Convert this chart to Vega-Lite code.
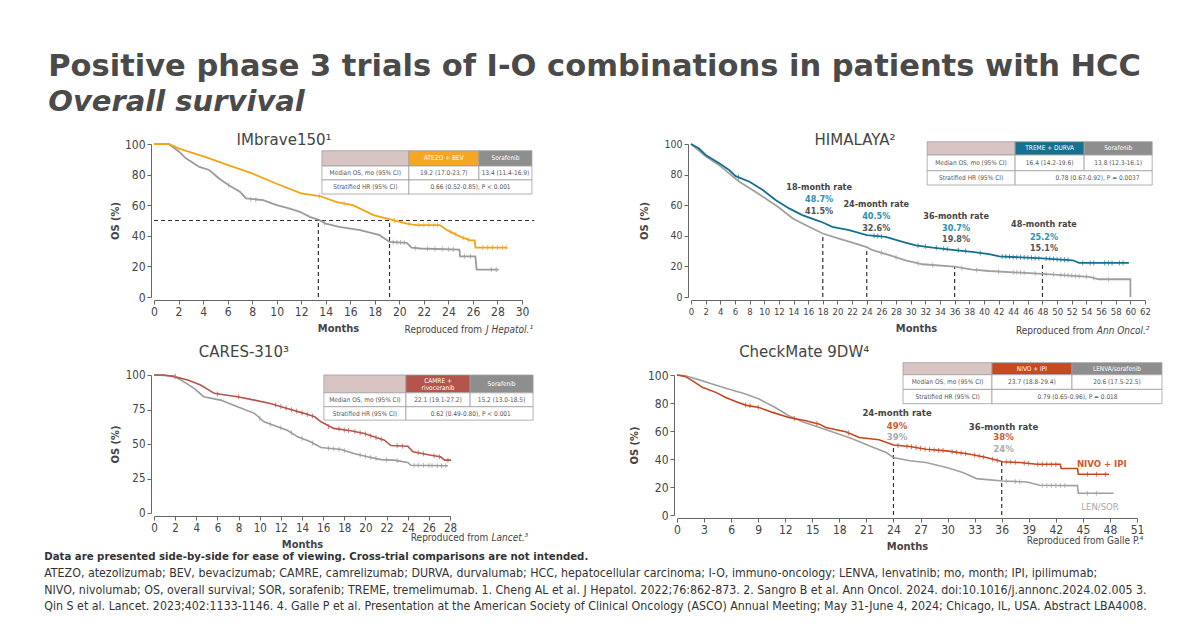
{
"$schema": "https://vega.github.io/schema/vega-lite/v6.json",
"background": "white",
"padding": {"left": 44, "top": 51, "right": 0, "bottom": 0},
"config": {
  "font": "DejaVu Sans Condensed, DejaVu Sans",
  "view": {"stroke": null},
  "axis": {"grid": false, "domainColor": "#666", "tickColor": "#666", "labelColor": "#444", "titleColor": "#444", "titleFontWeight": "bold", "titleFontSize": 11, "tickSize": 4, "labelPadding": 2, "offset": 3, "labelFlush": false, "labelOverlap": false, "labelBound": false, "labelFont": "DejaVu Sans Condensed, DejaVu Sans", "titleFont": "DejaVu Sans Condensed, DejaVu Sans"},
  "text": {"font": "DejaVu Sans Condensed, DejaVu Sans"}
},
"title": {"text": "Positive phase 3 trials of I-O combinations in patients with HCC", "subtitle": "Overall survival", "anchor": "start", "frame": "bounds", "font": "DejaVu Sans", "fontSize": 30.5, "fontWeight": "bold", "color": "#4a4a4a", "subtitleFont": "DejaVu Sans", "subtitleFontSize": 29, "subtitleFontStyle": "italic", "subtitleFontWeight": "bold", "subtitleColor": "#4a4a4a", "subtitlePadding": 6, "offset": 16, "dx": 4},
"resolve": {"scale": {"color": "independent", "fill": "independent"}},
"vconcat": [
{
  "title": {"text": "Data are presented side-by-side for ease of viewing. Cross-trial comparisons are not intended.", "subtitle": ["ATEZO, atezolizumab; BEV, bevacizumab; CAMRE, camrelizumab; DURVA, durvalumab; HCC, hepatocellular carcinoma; I-O, immuno-oncology; LENVA, lenvatinib; mo, month; IPI, ipilimumab;", "NIVO, nivolumab; OS, overall survival; SOR, sorafenib; TREME, tremelimumab. 1. Cheng AL et al. J Hepatol. 2022;76:862-873. 2. Sangro B et al. Ann Oncol. 2024. doi:10.1016/j.annonc.2024.02.005 3.", "Qin S et al. Lancet. 2023;402:1133-1146. 4. Galle P et al. Presentation at the American Society of Clinical Oncology (ASCO) Annual Meeting; May 31-June 4, 2024; Chicago, IL, USA. Abstract LBA4008."], "orient": "bottom", "anchor": "start", "frame": "bounds", "font": "DejaVu Sans Condensed, DejaVu Sans", "fontSize": 11.3, "fontWeight": "bold", "color": "#333", "subtitleFont": "DejaVu Sans Condensed, DejaVu Sans", "subtitleFontSize": 12.3, "subtitleColor": "#333", "subtitleLineHeight": 16.5, "subtitlePadding": 5, "offset": 0, "dx": -65},
  "spacing": 7,
  "resolve": {"scale": {"color": "independent", "fill": "independent"}},
  "vconcat": [
  {
    "hconcat": [
    {
      "width": 368, "height": 153,
      "resolve": {"scale": {"color": "independent"}},
      "encoding": {
        "x": {"field": "month", "type": "quantitative", "scale": {"domain": [0, 30], "nice": false, "zero": false}, "axis": {"values": [0,2,4,6,8,10,12,14,16,18,20,22,24,26,28,30], "title": "Months", "labelFontSize": 12, "titlePadding": 5}},
        "y": {"field": "os", "type": "quantitative", "scale": {"domain": [0, 100], "nice": false}, "axis": {"values": [0,20,40,60,80,100], "title": "OS (%)", "labelFontSize": 12, "titlePadding": 4}}
      },
      "layer": [
        {"data": {"values": [{"month":0,"month2":31,"os":50,"os2":50},{"month":13.4,"month2":13.4,"os":0,"os2":50},{"month":19.2,"month2":19.2,"os":0,"os2":50}]}, "mark": {"type": "rule", "strokeDash": [4, 3], "color": "#333", "strokeWidth": 1.2}, "encoding": {"x2": {"field": "month2"}, "y2": {"field": "os2"}}},
        {"data": {"values": [
          {"arm":"Sorafenib","month":0,"os":100},{"arm":"Sorafenib","month":1.2,"os":100},{"arm":"Sorafenib","month":2.05,"os":95},{"arm":"Sorafenib","month":2.6,"os":90.6},{"arm":"Sorafenib","month":3.7,"os":85},{"arm":"Sorafenib","month":4.5,"os":83},{"arm":"Sorafenib","month":5.3,"os":77.5},{"arm":"Sorafenib","month":6.1,"os":73},{"arm":"Sorafenib","month":7,"os":68.8},{"arm":"Sorafenib","month":7.5,"os":64.4},{"arm":"Sorafenib","month":8.9,"os":63.3},{"arm":"Sorafenib","month":10,"os":60},{"arm":"Sorafenib","month":11,"os":57.9},{"arm":"Sorafenib","month":11.9,"os":55.7},{"arm":"Sorafenib","month":12.7,"os":52.4},{"arm":"Sorafenib","month":13.5,"os":50.2},{"arm":"Sorafenib","month":14,"os":48},{"arm":"Sorafenib","month":15.1,"os":45.9},{"arm":"Sorafenib","month":16.8,"os":43.7},{"arm":"Sorafenib","month":18.4,"os":40.4},{"arm":"Sorafenib","month":19.2,"os":36},{"arm":"Sorafenib","month":20.6,"os":35.4},{"arm":"Sorafenib","month":21,"os":32.3},{"arm":"Sorafenib","month":21.7,"os":31.7},{"arm":"Sorafenib","month":24.9,"os":31},{"arm":"Sorafenib","month":24.95,"os":26.6},{"arm":"Sorafenib","month":26.2,"os":26.6},{"arm":"Sorafenib","month":26.3,"os":17.9},{"arm":"Sorafenib","month":28.1,"os":17.9},
          {"arm":"ATEZO + BEV","month":0,"os":100},{"arm":"ATEZO + BEV","month":1.2,"os":100},{"arm":"ATEZO + BEV","month":2.05,"os":97},{"arm":"ATEZO + BEV","month":4.1,"os":91.7},{"arm":"ATEZO + BEV","month":6.1,"os":86},{"arm":"ATEZO + BEV","month":8,"os":80.8},{"arm":"ATEZO + BEV","month":10,"os":74},{"arm":"ATEZO + BEV","month":12,"os":67.7},{"arm":"ATEZO + BEV","month":13.5,"os":66},{"arm":"ATEZO + BEV","month":14.9,"os":62},{"arm":"ATEZO + BEV","month":16.2,"os":60},{"arm":"ATEZO + BEV","month":17.9,"os":53.5},{"arm":"ATEZO + BEV","month":19,"os":51.3},{"arm":"ATEZO + BEV","month":19.5,"os":50.2},{"arm":"ATEZO + BEV","month":20.6,"os":48},{"arm":"ATEZO + BEV","month":21.4,"os":47},{"arm":"ATEZO + BEV","month":23.3,"os":47},{"arm":"ATEZO + BEV","month":23.9,"os":43.7},{"arm":"ATEZO + BEV","month":25,"os":39.3},{"arm":"ATEZO + BEV","month":25.8,"os":37},{"arm":"ATEZO + BEV","month":26.15,"os":37},{"arm":"ATEZO + BEV","month":26.2,"os":32.3},{"arm":"ATEZO + BEV","month":28.8,"os":32.3}
        ]}, "mark": {"type": "line", "strokeWidth": 1.8}, "encoding": {"color": {"field": "arm", "type": "nominal", "scale": {"domain": ["Sorafenib", "ATEZO + BEV"], "range": ["#9b9b9b", "#F2A516"]}, "legend": null}}},
        {"data": {"values": [
          {"arm":"ATEZO + BEV","month":13.5,"os":66},{"arm":"ATEZO + BEV","month":15.5,"os":61},{"arm":"ATEZO + BEV","month":19.6,"os":50},{"arm":"ATEZO + BEV","month":20.2,"os":49},{"arm":"ATEZO + BEV","month":20.8,"os":47.8},{"arm":"ATEZO + BEV","month":21.6,"os":47},{"arm":"ATEZO + BEV","month":22,"os":47},{"arm":"ATEZO + BEV","month":22.4,"os":47},{"arm":"ATEZO + BEV","month":22.8,"os":47},{"arm":"ATEZO + BEV","month":23.1,"os":47},{"arm":"ATEZO + BEV","month":24.2,"os":42.5},{"arm":"ATEZO + BEV","month":24.6,"os":41},{"arm":"ATEZO + BEV","month":25.2,"os":38.8},{"arm":"ATEZO + BEV","month":25.6,"os":37.5},{"arm":"ATEZO + BEV","month":26.8,"os":32.3},{"arm":"ATEZO + BEV","month":27.2,"os":32.3},{"arm":"ATEZO + BEV","month":27.6,"os":32.3},{"arm":"ATEZO + BEV","month":28,"os":32.3},{"arm":"ATEZO + BEV","month":28.4,"os":32.3},{"arm":"ATEZO + BEV","month":28.7,"os":32.3},
          {"arm":"Sorafenib","month":6.1,"os":73},{"arm":"Sorafenib","month":7.9,"os":63.8},{"arm":"Sorafenib","month":8.3,"os":63.5},{"arm":"Sorafenib","month":13.9,"os":48.5},{"arm":"Sorafenib","month":19.5,"os":35.8},{"arm":"Sorafenib","month":19.8,"os":35.7},{"arm":"Sorafenib","month":20.1,"os":35.6},{"arm":"Sorafenib","month":20.4,"os":35.5},{"arm":"Sorafenib","month":21.3,"os":32},{"arm":"Sorafenib","month":22.3,"os":31.5},{"arm":"Sorafenib","month":22.9,"os":31.4},{"arm":"Sorafenib","month":23.5,"os":31.3},{"arm":"Sorafenib","month":24,"os":31.2},{"arm":"Sorafenib","month":24.4,"os":31.1},{"arm":"Sorafenib","month":25.3,"os":26.6},{"arm":"Sorafenib","month":25.8,"os":26.6},{"arm":"Sorafenib","month":27.5,"os":17.9},{"arm":"Sorafenib","month":27.9,"os":17.9}
        ]}, "mark": {"type": "tick", "orient": "vertical", "size": 5, "thickness": 1}, "encoding": {"color": {"field": "arm", "type": "nominal", "scale": {"domain": ["Sorafenib", "ATEZO + BEV"], "range": ["#9b9b9b", "#F2A516"]}, "legend": null}}},
        {"data": {"values": [
          {"month":13.69,"month2":20.78,"os":95.6,"os2":85.6,"cell":"blank"},{"month":20.78,"month2":26.49,"os":95.6,"os2":85.6,"cell":"exp"},{"month":26.49,"month2":30.81,"os":95.6,"os2":85.6,"cell":"ctl"},
          {"month":13.69,"month2":20.78,"os":85.6,"os2":76.5,"cell":"body"},{"month":20.78,"month2":26.49,"os":85.6,"os2":76.5,"cell":"body"},{"month":26.49,"month2":30.81,"os":85.6,"os2":76.5,"cell":"body"},
          {"month":13.69,"month2":20.78,"os":76.5,"os2":67.3,"cell":"body"},{"month":20.78,"month2":30.81,"os":76.5,"os2":67.3,"cell":"body"}
        ]}, "mark": {"type": "rect", "stroke": "#a0a0a0", "strokeWidth": 0.8}, "encoding": {"x2": {"field": "month2"}, "y2": {"field": "os2"}, "fill": {"field": "cell", "type": "nominal", "scale": {"domain": ["blank", "exp", "ctl", "body"], "range": ["#D9C4C4", "#F5A623", "#8E8E8E", "#ffffff"]}, "legend": null}}},
        {"data": {"values": [
          {"month":23.63,"os":90.6,"label":"ATEZO + BEV","kind":"hdr"},{"month":28.65,"os":90.6,"label":"Sorafenib","kind":"hdr"},
          {"month":17.23,"os":81.05,"label":"Median OS, mo (95% CI)","kind":"body"},{"month":23.63,"os":81.05,"label":"19.2 (17.0-23.7)","kind":"body"},{"month":28.65,"os":81.05,"label":"13.4 (11.4-16.9)","kind":"body"},
          {"month":17.23,"os":71.9,"label":"Stratified HR (95% CI)","kind":"body"},{"month":25.8,"os":71.9,"label":"0.66 (0.52-0.85), P < 0.001","kind":"body"}
        ]}, "mark": {"type": "text", "fontSize": 6.5}, "encoding": {"text": {"field": "label"}, "color": {"field": "kind", "type": "nominal", "scale": {"domain": ["hdr", "body"], "range": ["#ffffff", "#555555"]}, "legend": null}}},
        {"data": {"values": [{"month": 10.6, "os": 102.6, "label": "IMbrave150¹"}]}, "mark": {"type": "text", "font": "DejaVu Sans", "fontSize": 15, "color": "#444"}, "encoding": {"text": {"field": "label"}}},
        {"data": {"values": [{"month": 30.9, "os": -21.6, "label": "J Hepatol.¹"}]}, "mark": {"type": "text", "fontSize": 10, "fontStyle": "italic", "align": "right", "color": "#444"}, "encoding": {"text": {"field": "label"}}},
        {"data": {"values": [{"month": 30.9, "os": -21.6, "label": "Reproduced from"}]}, "mark": {"type": "text", "fontSize": 10, "align": "right", "dx": -51, "color": "#444"}, "encoding": {"text": {"field": "label"}}}
      ]
    },
    {
      "width": 454, "height": 153,
      "resolve": {"scale": {"color": "independent"}},
      "encoding": {
        "x": {"field": "month", "type": "quantitative", "scale": {"domain": [0, 62], "nice": false, "zero": false}, "axis": {"values": [0,2,4,6,8,10,12,14,16,18,20,22,24,26,28,30,32,34,36,38,40,42,44,46,48,50,52,54,56,58,60,62], "title": "Months", "labelFontSize": 9.5, "titlePadding": 7, "titleX": 225, "titleAlign": "center"}},
        "y": {"field": "os", "type": "quantitative", "scale": {"domain": [0, 100], "nice": false}, "axis": {"values": [0,20,40,60,80,100], "title": "OS (%)", "labelFontSize": 10.5, "titlePadding": 14}}
      },
      "layer": [
        {"data": {"values": [{"month":18,"month2":18,"os":0,"os2":41.5},{"month":24,"month2":24,"os":0,"os2":33},{"month":36,"month2":36,"os":0,"os2":19.8},{"month":48,"month2":48,"os":0,"os2":21}]}, "mark": {"type": "rule", "strokeDash": [4, 3], "color": "#333", "strokeWidth": 1.2}, "encoding": {"x2": {"field": "month2"}, "y2": {"field": "os2"}}},
        {"data": {"values": [
          {"arm":"Sorafenib","month":0,"os":100},{"arm":"Sorafenib","month":2,"os":92},{"arm":"Sorafenib","month":3.9,"os":86},{"arm":"Sorafenib","month":5.2,"os":80.8},{"arm":"Sorafenib","month":6.6,"os":75.3},{"arm":"Sorafenib","month":8.4,"os":69.9},{"arm":"Sorafenib","month":10.2,"os":64.4},{"arm":"Sorafenib","month":12,"os":58.5},{"arm":"Sorafenib","month":13.9,"os":51.3},{"arm":"Sorafenib","month":15.7,"os":46.9},{"arm":"Sorafenib","month":18,"os":41.5},{"arm":"Sorafenib","month":20.2,"os":38.2},{"arm":"Sorafenib","month":22.5,"os":34.9},{"arm":"Sorafenib","month":24,"os":32.6},{"arm":"Sorafenib","month":24.8,"os":30.6},{"arm":"Sorafenib","month":27.1,"os":27.3},{"arm":"Sorafenib","month":29.3,"os":24},{"arm":"Sorafenib","month":31.6,"os":21.4},{"arm":"Sorafenib","month":36,"os":19.8},{"arm":"Sorafenib","month":38.4,"os":17.9},{"arm":"Sorafenib","month":40.7,"os":17},{"arm":"Sorafenib","month":48,"os":15.1},{"arm":"Sorafenib","month":54.4,"os":13.1},{"arm":"Sorafenib","month":55.7,"os":11.6},{"arm":"Sorafenib","month":60,"os":11.6},{"arm":"Sorafenib","month":60.02,"os":0},
          {"arm":"TREME + DURVA","month":0,"os":100},{"arm":"TREME + DURVA","month":1.1,"os":97},{"arm":"TREME + DURVA","month":2,"os":92.8},{"arm":"TREME + DURVA","month":3.9,"os":87.3},{"arm":"TREME + DURVA","month":5.2,"os":83},{"arm":"TREME + DURVA","month":6.1,"os":79},{"arm":"TREME + DURVA","month":8,"os":75.3},{"arm":"TREME + DURVA","month":9.8,"os":69.9},{"arm":"TREME + DURVA","month":11.6,"os":63.3},{"arm":"TREME + DURVA","month":13.4,"os":57.9},{"arm":"TREME + DURVA","month":15.2,"os":53.5},{"arm":"TREME + DURVA","month":17.1,"os":50.2},{"arm":"TREME + DURVA","month":18,"os":48.7},{"arm":"TREME + DURVA","month":19.3,"os":45.9},{"arm":"TREME + DURVA","month":21.6,"os":43.7},{"arm":"TREME + DURVA","month":24,"os":40.5},{"arm":"TREME + DURVA","month":26.6,"os":39.3},{"arm":"TREME + DURVA","month":28.9,"os":36},{"arm":"TREME + DURVA","month":30.7,"os":33.8},{"arm":"TREME + DURVA","month":33,"os":32.3},{"arm":"TREME + DURVA","month":36,"os":30.7},{"arm":"TREME + DURVA","month":38.4,"os":29.5},{"arm":"TREME + DURVA","month":40.7,"os":28},{"arm":"TREME + DURVA","month":42.1,"os":26.6},{"arm":"TREME + DURVA","month":48,"os":25.2},{"arm":"TREME + DURVA","month":52.1,"os":24},{"arm":"TREME + DURVA","month":53,"os":22.3},{"arm":"TREME + DURVA","month":59.8,"os":22.3}
        ]}, "mark": {"type": "line", "strokeWidth": 1.8}, "encoding": {"color": {"field": "arm", "type": "nominal", "scale": {"domain": ["Sorafenib", "TREME + DURVA"], "range": ["#a0a0a0", "#15708E"]}, "legend": null}}},
        {"data": {"values": [
          {"arm":"TREME + DURVA","month":6.5,"os":78.5},{"arm":"TREME + DURVA","month":25,"os":40},{"arm":"TREME + DURVA","month":25.5,"os":39.8},{"arm":"TREME + DURVA","month":26,"os":39.5},{"arm":"TREME + DURVA","month":31,"os":33.5},{"arm":"TREME + DURVA","month":32,"os":33},{"arm":"TREME + DURVA","month":33.5,"os":32.2},{"arm":"TREME + DURVA","month":34.5,"os":31.6},{"arm":"TREME + DURVA","month":35,"os":31.3},{"arm":"TREME + DURVA","month":36.5,"os":30.5},{"arm":"TREME + DURVA","month":37.5,"os":30},{"arm":"TREME + DURVA","month":39.5,"os":28.8},{"arm":"TREME + DURVA","month":42.5,"os":26.5},{"arm":"TREME + DURVA","month":43,"os":26.4},{"arm":"TREME + DURVA","month":43.5,"os":26.3},{"arm":"TREME + DURVA","month":44,"os":26.1},{"arm":"TREME + DURVA","month":44.5,"os":26},{"arm":"TREME + DURVA","month":45,"os":25.9},{"arm":"TREME + DURVA","month":45.5,"os":25.8},{"arm":"TREME + DURVA","month":46,"os":25.7},{"arm":"TREME + DURVA","month":46.5,"os":25.6},{"arm":"TREME + DURVA","month":47,"os":25.5},{"arm":"TREME + DURVA","month":47.5,"os":25.3},{"arm":"TREME + DURVA","month":48.5,"os":25.1},{"arm":"TREME + DURVA","month":49,"os":25},{"arm":"TREME + DURVA","month":49.5,"os":24.9},{"arm":"TREME + DURVA","month":50,"os":24.7},{"arm":"TREME + DURVA","month":50.5,"os":24.5},{"arm":"TREME + DURVA","month":51,"os":24.4},{"arm":"TREME + DURVA","month":51.5,"os":24.2},{"arm":"TREME + DURVA","month":53.5,"os":22.3},{"arm":"TREME + DURVA","month":54.5,"os":22.3},{"arm":"TREME + DURVA","month":55,"os":22.3},{"arm":"TREME + DURVA","month":56.5,"os":22.3},{"arm":"TREME + DURVA","month":57,"os":22.3},{"arm":"TREME + DURVA","month":57.5,"os":22.3},{"arm":"TREME + DURVA","month":58.5,"os":22.3},{"arm":"TREME + DURVA","month":59,"os":22.3},
          {"arm":"Sorafenib","month":26,"os":28.9},{"arm":"Sorafenib","month":28,"os":26},{"arm":"Sorafenib","month":31,"os":22},{"arm":"Sorafenib","month":33,"os":20.8},{"arm":"Sorafenib","month":37,"os":19},{"arm":"Sorafenib","month":39,"os":17.7},{"arm":"Sorafenib","month":42,"os":16.6},{"arm":"Sorafenib","month":44,"os":16.2},{"arm":"Sorafenib","month":44.5,"os":16.1},{"arm":"Sorafenib","month":45,"os":16},{"arm":"Sorafenib","month":45.5,"os":15.9},{"arm":"Sorafenib","month":47,"os":15.4},{"arm":"Sorafenib","month":48.5,"os":15},{"arm":"Sorafenib","month":49.5,"os":14.8},{"arm":"Sorafenib","month":50.5,"os":14.4},{"arm":"Sorafenib","month":51,"os":14.3},{"arm":"Sorafenib","month":51.5,"os":14.2},{"arm":"Sorafenib","month":52,"os":14},{"arm":"Sorafenib","month":52.5,"os":13.8},{"arm":"Sorafenib","month":53,"os":13.6},{"arm":"Sorafenib","month":54,"os":13.3},{"arm":"Sorafenib","month":55,"os":12.5},{"arm":"Sorafenib","month":57,"os":11.6}
        ]}, "mark": {"type": "tick", "orient": "vertical", "size": 5, "thickness": 1}, "encoding": {"color": {"field": "arm", "type": "nominal", "scale": {"domain": ["Sorafenib", "TREME + DURVA"], "range": ["#a0a0a0", "#15708E"]}, "legend": null}}},
        {"data": {"values": [
          {"month":32.25,"month2":44.26,"os":101.5,"os2":92.8,"cell":"blank"},{"month":44.26,"month2":53.69,"os":101.5,"os2":92.8,"cell":"exp"},{"month":53.69,"month2":62.98,"os":101.5,"os2":92.8,"cell":"ctl"},
          {"month":32.25,"month2":44.26,"os":92.8,"os2":82.5,"cell":"body"},{"month":44.26,"month2":53.69,"os":92.8,"os2":82.5,"cell":"body"},{"month":53.69,"month2":62.98,"os":92.8,"os2":82.5,"cell":"body"},
          {"month":32.25,"month2":44.26,"os":82.5,"os2":73.2,"cell":"body"},{"month":44.26,"month2":62.98,"os":82.5,"os2":73.2,"cell":"body"}
        ]}, "mark": {"type": "rect", "stroke": "#a0a0a0", "strokeWidth": 0.8}, "encoding": {"x2": {"field": "month2"}, "y2": {"field": "os2"}, "fill": {"field": "cell", "type": "nominal", "scale": {"domain": ["blank", "exp", "ctl", "body"], "range": ["#D9C4C4", "#16708E", "#8E8E8E", "#ffffff"]}, "legend": null}}},
        {"data": {"values": [
          {"month":48.98,"os":97.15,"label":"TREME + DURVA","kind":"hdr"},{"month":58.33,"os":97.15,"label":"Sorafenib","kind":"hdr"},
          {"month":38.25,"os":87.65,"label":"Median OS, mo (95% CI)","kind":"body"},{"month":48.98,"os":87.65,"label":"16.4 (14.2-19.6)","kind":"body"},{"month":58.33,"os":87.65,"label":"13.8 (12.3-16.1)","kind":"body"},
          {"month":38.25,"os":77.85,"label":"Stratified HR (95% CI)","kind":"body"},{"month":55.5,"os":77.85,"label":"0.78 (0.67-0.92), P = 0.0037","kind":"body"}
        ]}, "mark": {"type": "text", "fontSize": 6.5}, "encoding": {"text": {"field": "label"}, "color": {"field": "kind", "type": "nominal", "scale": {"domain": ["hdr", "body"], "range": ["#ffffff", "#555555"]}, "legend": null}}},
        {"data": {"values": [
          {"month":17.5,"os":71.8,"label":"18-month rate","kind":"head"},{"month":17.5,"os":64,"label":"48.7%","kind":"exp"},{"month":17.5,"os":56,"label":"41.5%","kind":"ctl"},
          {"month":25.3,"os":60.7,"label":"24-month rate","kind":"head"},{"month":25.3,"os":53,"label":"40.5%","kind":"exp"},{"month":25.3,"os":45.2,"label":"32.6%","kind":"ctl"},
          {"month":36.2,"os":53,"label":"36-month rate","kind":"head"},{"month":36.2,"os":45.4,"label":"30.7%","kind":"exp"},{"month":36.2,"os":37.6,"label":"19.8%","kind":"ctl"},
          {"month":48.2,"os":47.4,"label":"48-month rate","kind":"head"},{"month":48.2,"os":39.3,"label":"25.2%","kind":"exp"},{"month":48.2,"os":31.7,"label":"15.1%","kind":"ctl"}
        ]}, "mark": {"type": "text", "fontSize": 9, "fontWeight": "bold"}, "encoding": {"text": {"field": "label"}, "color": {"field": "kind", "type": "nominal", "scale": {"domain": ["head", "exp", "ctl"], "range": ["#444444", "#2A90B4", "#555555"]}, "legend": null}}},
        {"data": {"values": [{"month": 22.4, "os": 102.6, "label": "HIMALAYA²"}]}, "mark": {"type": "text", "font": "DejaVu Sans", "fontSize": 15, "color": "#444"}, "encoding": {"text": {"field": "label"}}},
        {"data": {"values": [{"month": 62.6, "os": -22.5, "label": "Ann Oncol.²"}]}, "mark": {"type": "text", "fontSize": 10, "fontStyle": "italic", "align": "right", "color": "#444"}, "encoding": {"text": {"field": "label"}}},
        {"data": {"values": [{"month": 62.6, "os": -22.5, "label": "Reproduced from"}]}, "mark": {"type": "text", "fontSize": 10, "align": "right", "dx": -56, "color": "#444"}, "encoding": {"text": {"field": "label"}}}
      ]
    }
    ],
    "spacing": 103,
    "resolve": {"scale": {"color": "independent", "fill": "independent"}}
  },
  {
    "hconcat": [
    {
      "width": 296, "height": 138,
      "resolve": {"scale": {"color": "independent"}},
      "encoding": {
        "x": {"field": "month", "type": "quantitative", "scale": {"domain": [0, 28], "nice": false, "zero": false}, "axis": {"values": [0,2,4,6,8,10,12,14,16,18,20,22,24,26,28], "title": "Months", "labelFontSize": 11.5, "titlePadding": 5}},
        "y": {"field": "os", "type": "quantitative", "scale": {"domain": [0, 100], "nice": false}, "axis": {"values": [0,25,50,75,100], "title": "OS (%)", "labelFontSize": 11.5, "titlePadding": 5}}
      },
      "layer": [
        {"data": {"values": [
          {"arm":"Sorafenib","month":0,"os":100},{"arm":"Sorafenib","month":1.9,"os":99.3},{"arm":"Sorafenib","month":2.8,"os":95.2},{"arm":"Sorafenib","month":3.8,"os":90.3},{"arm":"Sorafenib","month":4.7,"os":84.3},{"arm":"Sorafenib","month":6.3,"os":81.8},{"arm":"Sorafenib","month":7.9,"os":77},{"arm":"Sorafenib","month":9.5,"os":72.2},{"arm":"Sorafenib","month":10.4,"os":66.1},{"arm":"Sorafenib","month":11.7,"os":62.5},{"arm":"Sorafenib","month":12.6,"os":60},{"arm":"Sorafenib","month":13.6,"os":55.2},{"arm":"Sorafenib","month":14.8,"os":51.6},{"arm":"Sorafenib","month":15.8,"os":47.5},{"arm":"Sorafenib","month":17.7,"os":46},{"arm":"Sorafenib","month":18.9,"os":43.1},{"arm":"Sorafenib","month":20.2,"os":40.7},{"arm":"Sorafenib","month":21.5,"os":38.7},{"arm":"Sorafenib","month":22.7,"os":38.3},{"arm":"Sorafenib","month":24,"os":36.6},{"arm":"Sorafenib","month":24.3,"os":34.6},{"arm":"Sorafenib","month":27.8,"os":34.2},
          {"arm":"CAMRE + rivoceranib","month":0,"os":100},{"arm":"CAMRE + rivoceranib","month":0.9,"os":100},{"arm":"CAMRE + rivoceranib","month":1.9,"os":98.8},{"arm":"CAMRE + rivoceranib","month":3.2,"os":96.4},{"arm":"CAMRE + rivoceranib","month":4.4,"os":92.7},{"arm":"CAMRE + rivoceranib","month":5.7,"os":86.7},{"arm":"CAMRE + rivoceranib","month":6.3,"os":86},{"arm":"CAMRE + rivoceranib","month":7.9,"os":84.3},{"arm":"CAMRE + rivoceranib","month":9.5,"os":81.8},{"arm":"CAMRE + rivoceranib","month":11,"os":79.4},{"arm":"CAMRE + rivoceranib","month":12.6,"os":75.8},{"arm":"CAMRE + rivoceranib","month":14.2,"os":72.2},{"arm":"CAMRE + rivoceranib","month":15.2,"os":69.7},{"arm":"CAMRE + rivoceranib","month":15.8,"os":66.1},{"arm":"CAMRE + rivoceranib","month":17,"os":61.3},{"arm":"CAMRE + rivoceranib","month":18.6,"os":59.6},{"arm":"CAMRE + rivoceranib","month":19.9,"os":57.6},{"arm":"CAMRE + rivoceranib","month":20.8,"os":55.2},{"arm":"CAMRE + rivoceranib","month":21.8,"os":52.8},{"arm":"CAMRE + rivoceranib","month":22.4,"os":48.9},{"arm":"CAMRE + rivoceranib","month":24,"os":48.4},{"arm":"CAMRE + rivoceranib","month":24.5,"os":44.3},{"arm":"CAMRE + rivoceranib","month":26.2,"os":41.9},{"arm":"CAMRE + rivoceranib","month":27.1,"os":40.7},{"arm":"CAMRE + rivoceranib","month":27.5,"os":38.3},{"arm":"CAMRE + rivoceranib","month":28.1,"os":38.3}
        ]}, "mark": {"type": "line", "strokeWidth": 1.6}, "encoding": {"color": {"field": "arm", "type": "nominal", "scale": {"domain": ["Sorafenib", "CAMRE + rivoceranib"], "range": ["#9b9b9b", "#B5544B"]}, "legend": null}}},
        {"data": {"values": [
          {"arm":"CAMRE + rivoceranib","month":2,"os":98.7},{"arm":"CAMRE + rivoceranib","month":6,"os":86.3},{"arm":"CAMRE + rivoceranib","month":8,"os":84.2},{"arm":"CAMRE + rivoceranib","month":11.5,"os":78.3},{"arm":"CAMRE + rivoceranib","month":12,"os":77.2},{"arm":"CAMRE + rivoceranib","month":12.5,"os":76},{"arm":"CAMRE + rivoceranib","month":13,"os":74.9},{"arm":"CAMRE + rivoceranib","month":13.5,"os":73.9},{"arm":"CAMRE + rivoceranib","month":14,"os":72.7},{"arm":"CAMRE + rivoceranib","month":14.5,"os":71.4},{"arm":"CAMRE + rivoceranib","month":15,"os":70.2},{"arm":"CAMRE + rivoceranib","month":16.5,"os":62.5},{"arm":"CAMRE + rivoceranib","month":17.5,"os":61},{"arm":"CAMRE + rivoceranib","month":18,"os":60.2},{"arm":"CAMRE + rivoceranib","month":18.4,"os":59.8},{"arm":"CAMRE + rivoceranib","month":19,"os":59},{"arm":"CAMRE + rivoceranib","month":19.5,"os":58.2},{"arm":"CAMRE + rivoceranib","month":20,"os":57.3},{"arm":"CAMRE + rivoceranib","month":20.5,"os":56},{"arm":"CAMRE + rivoceranib","month":21,"os":54.7},{"arm":"CAMRE + rivoceranib","month":21.5,"os":53.5},{"arm":"CAMRE + rivoceranib","month":23,"os":48.7},{"arm":"CAMRE + rivoceranib","month":23.5,"os":48.5},{"arm":"CAMRE + rivoceranib","month":25,"os":43.6},{"arm":"CAMRE + rivoceranib","month":25.5,"os":42.9},{"arm":"CAMRE + rivoceranib","month":26.5,"os":41.5},{"arm":"CAMRE + rivoceranib","month":27,"os":40.8},{"arm":"CAMRE + rivoceranib","month":27.8,"os":38.3},
          {"arm":"Sorafenib","month":2,"os":99.2},{"arm":"Sorafenib","month":10,"os":68.7},{"arm":"Sorafenib","month":11,"os":64.4},{"arm":"Sorafenib","month":12,"os":61.7},{"arm":"Sorafenib","month":13,"os":58.1},{"arm":"Sorafenib","month":14,"os":54},{"arm":"Sorafenib","month":15,"os":50.8},{"arm":"Sorafenib","month":16.5,"os":47},{"arm":"Sorafenib","month":17,"os":46.5},{"arm":"Sorafenib","month":17.5,"os":46.2},{"arm":"Sorafenib","month":18,"os":45.3},{"arm":"Sorafenib","month":19.5,"os":42.2},{"arm":"Sorafenib","month":20,"os":41.1},{"arm":"Sorafenib","month":20.5,"os":40.2},{"arm":"Sorafenib","month":21,"os":39.5},{"arm":"Sorafenib","month":22,"os":38.6},{"arm":"Sorafenib","month":23,"os":38},{"arm":"Sorafenib","month":24.6,"os":34.6},{"arm":"Sorafenib","month":25,"os":34.6},{"arm":"Sorafenib","month":25.5,"os":34.5},{"arm":"Sorafenib","month":26,"os":34.5},{"arm":"Sorafenib","month":26.3,"os":34.4},{"arm":"Sorafenib","month":26.8,"os":34.3},{"arm":"Sorafenib","month":27.2,"os":34.3},{"arm":"Sorafenib","month":27.6,"os":34.2}
        ]}, "mark": {"type": "tick", "orient": "vertical", "size": 5, "thickness": 1}, "encoding": {"color": {"field": "arm", "type": "nominal", "scale": {"domain": ["Sorafenib", "CAMRE + rivoceranib"], "range": ["#9b9b9b", "#B5544B"]}, "legend": null}}},
        {"data": {"values": [
          {"month":16.07,"month2":23.83,"os":100,"os2":87.1,"cell":"blank"},{"month":23.83,"month2":29.9,"os":100,"os2":87.1,"cell":"exp"},{"month":29.9,"month2":35.86,"os":100,"os2":87.1,"cell":"ctl"},
          {"month":16.07,"month2":23.83,"os":87.1,"os2":77,"cell":"body"},{"month":23.83,"month2":29.9,"os":87.1,"os2":77,"cell":"body"},{"month":29.9,"month2":35.86,"os":87.1,"os2":77,"cell":"body"},
          {"month":16.07,"month2":23.83,"os":77,"os2":67.3,"cell":"body"},{"month":23.83,"month2":35.86,"os":77,"os2":67.3,"cell":"body"}
        ]}, "mark": {"type": "rect", "stroke": "#a0a0a0", "strokeWidth": 0.8}, "encoding": {"x2": {"field": "month2"}, "y2": {"field": "os2"}, "fill": {"field": "cell", "type": "nominal", "scale": {"domain": ["blank", "exp", "ctl", "body"], "range": ["#D9C4C4", "#B5544B", "#8E8E8E", "#ffffff"]}, "legend": null}}},
        {"data": {"values": [
          {"month":26.87,"os":96,"label":"CAMRE +","kind":"hdr"},{"month":26.87,"os":90.8,"label":"rivoceranib","kind":"hdr"},{"month":32.88,"os":93.5,"label":"Sorafenib","kind":"hdr"},
          {"month":19.95,"os":82,"label":"Median OS, mo (95% CI)","kind":"body"},{"month":26.87,"os":82,"label":"22.1 (19.1-27.2)","kind":"body"},{"month":32.88,"os":82,"label":"15.2 (13.0-18.5)","kind":"body"},
          {"month":19.95,"os":72.1,"label":"Stratified HR (95% CI)","kind":"body"},{"month":29.96,"os":72.1,"label":"0.62 (0.49-0.80), P < 0.001","kind":"body"}
        ]}, "mark": {"type": "text", "fontSize": 6.5}, "encoding": {"text": {"field": "label"}, "color": {"field": "kind", "type": "nominal", "scale": {"domain": ["hdr", "body"], "range": ["#ffffff", "#555555"]}, "legend": null}}},
        {"data": {"values": [{"month": 8.5, "os": 116.6, "label": "CARES-310³"}]}, "mark": {"type": "text", "font": "DejaVu Sans", "fontSize": 15, "color": "#444"}, "encoding": {"text": {"field": "label"}}},
        {"data": {"values": [{"month": 35.4, "os": -18.4, "label": "Lancet.³"}]}, "mark": {"type": "text", "fontSize": 10, "fontStyle": "italic", "align": "right", "color": "#444"}, "encoding": {"text": {"field": "label"}}},
        {"data": {"values": [{"month": 35.4, "os": -18.4, "label": "Reproduced from"}]}, "mark": {"type": "text", "fontSize": 10, "align": "right", "dx": -40, "color": "#444"}, "encoding": {"text": {"field": "label"}}}
      ]
    },
    {
      "width": 460, "height": 140,
      "resolve": {"scale": {"color": "independent"}},
      "encoding": {
        "x": {"field": "month", "type": "quantitative", "scale": {"domain": [0, 51], "nice": false, "zero": false}, "axis": {"values": [0,3,6,9,12,15,18,21,24,27,30,33,36,39,42,45,48,51], "title": "Months", "labelFontSize": 12, "titlePadding": 5}},
        "y": {"field": "os", "type": "quantitative", "scale": {"domain": [0, 100], "nice": false}, "axis": {"values": [0,20,40,60,80,100], "title": "OS (%)", "labelFontSize": 12, "titlePadding": 8}}
      },
      "layer": [
        {"data": {"values": [{"month":24,"month2":24,"os":0,"os2":50},{"month":36,"month2":36,"os":0,"os2":38}]}, "mark": {"type": "rule", "strokeDash": [4, 3], "color": "#333", "strokeWidth": 1.2}, "encoding": {"x2": {"field": "month2"}, "y2": {"field": "os2"}}},
        {"data": {"values": [
          {"arm":"LENVA/sorafenib","month":0,"os":100},{"arm":"LENVA/sorafenib","month":0.9,"os":99.5},{"arm":"LENVA/sorafenib","month":2.4,"os":96.7},{"arm":"LENVA/sorafenib","month":3.9,"os":93.6},{"arm":"LENVA/sorafenib","month":5.7,"os":90},{"arm":"LENVA/sorafenib","month":7.6,"os":86.4},{"arm":"LENVA/sorafenib","month":9.1,"os":82.8},{"arm":"LENVA/sorafenib","month":10.9,"os":76.8},{"arm":"LENVA/sorafenib","month":12.4,"os":70.9},{"arm":"LENVA/sorafenib","month":13.9,"os":66.6},{"arm":"LENVA/sorafenib","month":15.8,"os":62.5},{"arm":"LENVA/sorafenib","month":17.6,"os":58.5},{"arm":"LENVA/sorafenib","month":19.5,"os":54.2},{"arm":"LENVA/sorafenib","month":21.3,"os":49.4},{"arm":"LENVA/sorafenib","month":23.2,"os":44.6},{"arm":"LENVA/sorafenib","month":24,"os":41},{"arm":"LENVA/sorafenib","month":25.8,"os":38.7},{"arm":"LENVA/sorafenib","month":27.6,"os":37.5},{"arm":"LENVA/sorafenib","month":29.9,"os":33.9},{"arm":"LENVA/sorafenib","month":31.7,"os":30.3},{"arm":"LENVA/sorafenib","month":33.2,"os":26},{"arm":"LENVA/sorafenib","month":34.7,"os":25.1},{"arm":"LENVA/sorafenib","month":36.1,"os":24.3},{"arm":"LENVA/sorafenib","month":38.8,"os":23.6},{"arm":"LENVA/sorafenib","month":40.2,"os":21.2},{"arm":"LENVA/sorafenib","month":44.4,"os":21},{"arm":"LENVA/sorafenib","month":44.5,"os":15.5},{"arm":"LENVA/sorafenib","month":48.4,"os":15.5},
          {"arm":"NIVO + IPI","month":0,"os":100},{"arm":"NIVO + IPI","month":0.9,"os":99},{"arm":"NIVO + IPI","month":1.7,"os":96},{"arm":"NIVO + IPI","month":2.8,"os":91.2},{"arm":"NIVO + IPI","month":4.3,"os":87.6},{"arm":"NIVO + IPI","month":5.4,"os":84},{"arm":"NIVO + IPI","month":6.5,"os":81},{"arm":"NIVO + IPI","month":7.6,"os":78.5},{"arm":"NIVO + IPI","month":9.1,"os":76.8},{"arm":"NIVO + IPI","month":10.6,"os":73.3},{"arm":"NIVO + IPI","month":12.4,"os":69.7},{"arm":"NIVO + IPI","month":14.3,"os":67.3},{"arm":"NIVO + IPI","month":15.8,"os":64.9},{"arm":"NIVO + IPI","month":16.5,"os":62.5},{"arm":"NIVO + IPI","month":18.7,"os":59.4},{"arm":"NIVO + IPI","month":20.2,"os":55.4},{"arm":"NIVO + IPI","month":22.4,"os":53.7},{"arm":"NIVO + IPI","month":24,"os":50},{"arm":"NIVO + IPI","month":25.8,"os":48.9},{"arm":"NIVO + IPI","month":27.6,"os":47},{"arm":"NIVO + IPI","month":29.9,"os":45.8},{"arm":"NIVO + IPI","month":32.5,"os":43.4},{"arm":"NIVO + IPI","month":34.3,"os":41.1},{"arm":"NIVO + IPI","month":36.1,"os":38},{"arm":"NIVO + IPI","month":38,"os":37.5},{"arm":"NIVO + IPI","month":39.9,"os":36.3},{"arm":"NIVO + IPI","month":42.5,"os":36.3},{"arm":"NIVO + IPI","month":42.6,"os":33.2},{"arm":"NIVO + IPI","month":44.4,"os":33.2},{"arm":"NIVO + IPI","month":44.5,"os":29.1},{"arm":"NIVO + IPI","month":47.9,"os":29.1}
        ]}, "mark": {"type": "line", "strokeWidth": 1.6}, "encoding": {"color": {"field": "arm", "type": "nominal", "scale": {"domain": ["LENVA/sorafenib", "NIVO + IPI"], "range": ["#a0a0a0", "#C6461C"]}, "legend": null}}},
        {"data": {"values": [
          {"arm":"NIVO + IPI","month":7.6,"os":78.5},{"arm":"NIVO + IPI","month":8.1,"os":78},{"arm":"NIVO + IPI","month":9,"os":77},{"arm":"NIVO + IPI","month":13,"os":68.9},{"arm":"NIVO + IPI","month":15.5,"os":65.4},{"arm":"NIVO + IPI","month":19,"os":58.6},{"arm":"NIVO + IPI","month":24.5,"os":49.7},{"arm":"NIVO + IPI","month":25.5,"os":49.1},{"arm":"NIVO + IPI","month":26,"os":48.7},{"arm":"NIVO + IPI","month":26.5,"os":48.2},{"arm":"NIVO + IPI","month":27,"os":47.6},{"arm":"NIVO + IPI","month":27.5,"os":47.1},{"arm":"NIVO + IPI","month":28,"os":46.8},{"arm":"NIVO + IPI","month":28.5,"os":46.5},{"arm":"NIVO + IPI","month":29,"os":46.3},{"arm":"NIVO + IPI","month":29.5,"os":46},{"arm":"NIVO + IPI","month":30.5,"os":45.2},{"arm":"NIVO + IPI","month":31,"os":44.8},{"arm":"NIVO + IPI","month":31.5,"os":44.3},{"arm":"NIVO + IPI","month":32,"os":43.9},{"arm":"NIVO + IPI","month":33,"os":42.8},{"arm":"NIVO + IPI","month":33.5,"os":42.2},{"arm":"NIVO + IPI","month":34,"os":41.5},{"arm":"NIVO + IPI","month":35,"os":39.9},{"arm":"NIVO + IPI","month":35.5,"os":39},{"arm":"NIVO + IPI","month":36.5,"os":37.9},{"arm":"NIVO + IPI","month":37,"os":37.8},{"arm":"NIVO + IPI","month":37.5,"os":37.6},{"arm":"NIVO + IPI","month":38.5,"os":37.2},{"arm":"NIVO + IPI","month":39,"os":36.9},{"arm":"NIVO + IPI","month":40,"os":36.3},{"arm":"NIVO + IPI","month":40.5,"os":36.3},{"arm":"NIVO + IPI","month":41,"os":36.3},{"arm":"NIVO + IPI","month":41.5,"os":36.3},{"arm":"NIVO + IPI","month":42,"os":36.3},{"arm":"NIVO + IPI","month":45.5,"os":29.1},{"arm":"NIVO + IPI","month":46.5,"os":29.1},{"arm":"NIVO + IPI","month":47.5,"os":29.1},
          {"arm":"LENVA/sorafenib","month":36.5,"os":24.2},{"arm":"LENVA/sorafenib","month":37.5,"os":24},{"arm":"LENVA/sorafenib","month":38,"os":23.8},{"arm":"LENVA/sorafenib","month":40.5,"os":21.2},{"arm":"LENVA/sorafenib","month":41,"os":21.1},{"arm":"LENVA/sorafenib","month":41.5,"os":21.1},{"arm":"LENVA/sorafenib","month":42,"os":21.1},{"arm":"LENVA/sorafenib","month":42.5,"os":21},{"arm":"LENVA/sorafenib","month":43,"os":21},{"arm":"LENVA/sorafenib","month":45.5,"os":15.5},{"arm":"LENVA/sorafenib","month":46.5,"os":15.5}
        ]}, "mark": {"type": "tick", "orient": "vertical", "size": 5, "thickness": 1}, "encoding": {"color": {"field": "arm", "type": "nominal", "scale": {"domain": ["LENVA/sorafenib", "NIVO + IPI"], "range": ["#a0a0a0", "#C6461C"]}, "legend": null}}},
        {"data": {"values": [
          {"month":25.06,"month2":34.92,"os":108.8,"os2":100.2,"cell":"blank"},{"month":34.92,"month2":43.79,"os":108.8,"os2":100.2,"cell":"exp"},{"month":43.79,"month2":53.77,"os":108.8,"os2":100.2,"cell":"ctl"},
          {"month":25.06,"month2":34.92,"os":100.2,"os2":89.7,"cell":"body"},{"month":34.92,"month2":43.79,"os":100.2,"os2":89.7,"cell":"body"},{"month":43.79,"month2":53.77,"os":100.2,"os2":89.7,"cell":"body"},
          {"month":25.06,"month2":34.92,"os":89.7,"os2":79.5,"cell":"body"},{"month":34.92,"month2":53.77,"os":89.7,"os2":79.5,"cell":"body"}
        ]}, "mark": {"type": "rect", "stroke": "#a0a0a0", "strokeWidth": 0.8}, "encoding": {"x2": {"field": "month2"}, "y2": {"field": "os2"}, "fill": {"field": "cell", "type": "nominal", "scale": {"domain": ["blank", "exp", "ctl", "body"], "range": ["#D9C4C4", "#C74A1E", "#8E8E8E", "#ffffff"]}, "legend": null}}},
        {"data": {"values": [
          {"month":39.35,"os":104.5,"label":"NIVO + IPI","kind":"hdr"},{"month":48.78,"os":104.5,"label":"LENVA/sorafenib","kind":"hdr"},
          {"month":30,"os":94.95,"label":"Median OS, mo (95% CI)","kind":"body"},{"month":39.35,"os":94.95,"label":"23.7 (18.8-29.4)","kind":"body"},{"month":48.78,"os":94.95,"label":"20.6 (17.5-22.5)","kind":"body"},
          {"month":30,"os":84.6,"label":"Stratified HR (95% CI)","kind":"body"},{"month":44.4,"os":84.6,"label":"0.79 (0.65-0.96), P = 0.018","kind":"body"}
        ]}, "mark": {"type": "text", "fontSize": 6.5}, "encoding": {"text": {"field": "label"}, "color": {"field": "kind", "type": "nominal", "scale": {"domain": ["hdr", "body"], "range": ["#ffffff", "#555555"]}, "legend": null}}},
        {"data": {"values": [
          {"month":24.4,"os":72.8,"label":"24-month rate","kind":"head"},{"month":24.4,"os":63.7,"label":"49%","kind":"exp"},{"month":24.4,"os":55.8,"label":"39%","kind":"ctl"},
          {"month":36.2,"os":63.2,"label":"36-month rate","kind":"head"},{"month":36.2,"os":55.4,"label":"38%","kind":"exp"},{"month":36.2,"os":47,"label":"24%","kind":"ctl"},
          {"month":47.1,"os":36.7,"label":"NIVO + IPI","kind":"exp"}
        ]}, "mark": {"type": "text", "fontSize": 9.5, "fontWeight": "bold"}, "encoding": {"text": {"field": "label"}, "color": {"field": "kind", "type": "nominal", "scale": {"domain": ["head", "exp", "ctl"], "range": ["#444444", "#D0592A", "#ABABAB"]}, "legend": null}}},
        {"data": {"values": [{"month": 46.9, "os": 5.9, "label": "LEN/SOR"}]}, "mark": {"type": "text", "fontSize": 9.5, "color": "#A8A8A8"}, "encoding": {"text": {"field": "label"}}},
        {"data": {"values": [{"month": 14.1, "os": 116.7, "label": "CheckMate 9DW⁴"}]}, "mark": {"type": "text", "font": "DejaVu Sans", "fontSize": 15, "color": "#444"}, "encoding": {"text": {"field": "label"}}},
        {"data": {"values": [{"month": 51.7, "os": -18.6, "label": "Reproduced from Galle P.⁴"}]}, "mark": {"type": "text", "fontSize": 10, "align": "right", "color": "#444"}, "encoding": {"text": {"field": "label"}}}
      ]
    }
    ],
    "spacing": 94,
    "resolve": {"scale": {"color": "independent", "fill": "independent"}}
  }
  ]
}
]
}
